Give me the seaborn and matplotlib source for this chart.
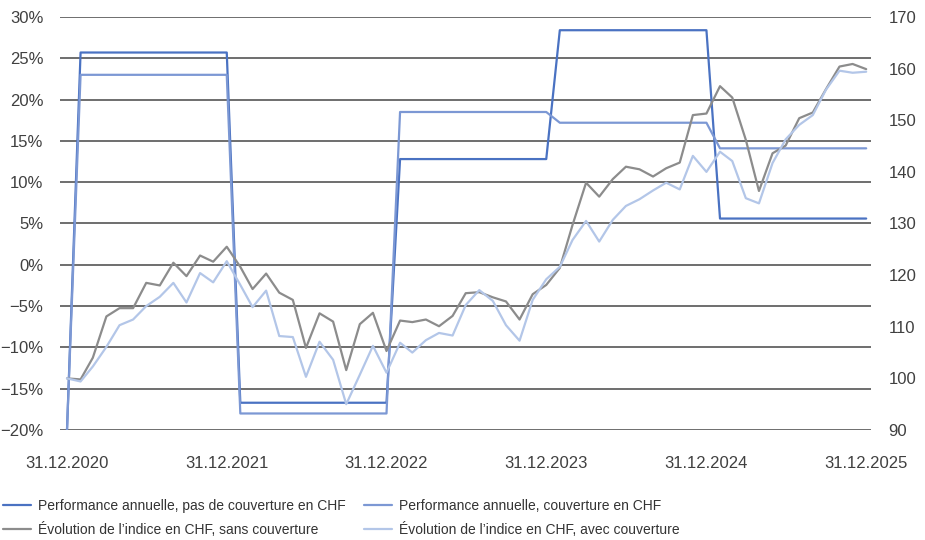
import matplotlib
matplotlib.use("Agg")
import matplotlib.pyplot as plt
import matplotlib.dates as mdates
from matplotlib.ticker import FixedLocator, FuncFormatter
import seaborn as sns
import pandas as pd
import numpy as np

# ---------------- data ----------------
dates = pd.date_range("2020-12-31", periods=61, freq="ME")

perf_unhedged = ([-20.0] + [25.7] * 12 + [-16.7] * 12 + [12.8] * 12
                 + [28.4] * 12 + [5.6] * 12)
perf_hedged = ([-20.0] + [23.0] * 12 + [-18.0] * 12 + [18.5] * 12
               + [17.2] * 12 + [14.1] * 12)

index_unhedged = [100.0, 99.8, 104.0, 112.0, 113.6, 113.6, 118.5, 118.0, 122.4, 119.8,
                  123.8, 122.6, 125.5, 121.6, 117.3, 120.3, 116.6, 115.2, 105.9, 112.6,
                  111.0, 101.6, 110.5, 112.7, 105.3, 111.2, 110.9, 111.4, 110.1, 112.1,
                  116.5, 116.7, 115.7, 114.9, 111.4, 116.3, 118.1, 121.4, 129.7, 137.9,
                  135.2, 138.6, 141.0, 140.5, 139.1, 140.7, 141.8, 151.0, 151.3, 156.6,
                  154.4, 146.2, 136.3, 143.6, 145.1, 150.4, 151.5, 156.0, 160.4, 160.9,
                  159.9]
index_hedged = [100.0, 99.4, 102.3, 106.1, 110.3, 111.4, 114.0, 115.8, 118.5, 114.7,
                120.4, 118.6, 122.7, 118.1, 113.8, 117.0, 108.2, 108.0, 100.3, 107.1,
                103.6, 95.0, 100.7, 106.3, 101.1, 106.9, 105.0, 107.4, 108.8, 108.3,
                114.2, 117.1, 115.0, 110.3, 107.3, 115.2, 119.2, 121.6, 126.8, 130.5,
                126.5, 130.7, 133.4, 134.7, 136.4, 137.9, 136.6, 143.1, 140.0, 143.9,
                142.1, 134.9, 133.9, 141.7, 146.3, 149.1, 151.0, 155.9, 159.6, 159.2,
                159.4]

labels = ["Performance annuelle, pas de couverture en CHF",
          "Performance annuelle, couverture en CHF",
          "Évolution de l’indice en CHF, sans couverture",
          "Évolution de l’indice en CHF, avec couverture"]
colors = ["#4A72C2", "#7C98D4", "#8C8C8C", "#B3C6E8"]

left_ticks = [30, 25, 20, 15, 10, 5, 0, -5, -10, -15, -20]
right_ticks = [170, 160, 150, 140, 130, 120, 110, 100, 90]
x_ticks = pd.to_datetime(["2020-12-31", "2021-12-31", "2022-12-31",
                          "2023-12-31", "2024-12-31", "2025-12-31"])

df = pd.DataFrame({"date": dates, "pu": perf_unhedged, "ph": perf_hedged,
                   "iu": index_unhedged, "ih": index_hedged})

# ---------------- plot ----------------
sns.set_theme(style="white")
plt.rcParams["font.family"] = ["Liberation Sans", "DejaVu Sans"]

fig = plt.figure(figsize=(9.25, 5.4), dpi=100)
ax = fig.add_axes([60 / 925, 1 - 430 / 540, (871 - 60) / 925, (430 - 17) / 540])
ax2 = ax.twinx()

lw = 1.6
sns.lineplot(data=df, x="date", y="pu", ax=ax, color=colors[0], lw=lw, label=labels[0], legend=False)
sns.lineplot(data=df, x="date", y="ph", ax=ax, color=colors[1], lw=lw, label=labels[1], legend=False)
sns.lineplot(data=df, x="date", y="iu", ax=ax2, color=colors[2], lw=lw, label=labels[2], legend=False)
sns.lineplot(data=df, x="date", y="ih", ax=ax2, color=colors[3], lw=lw, label=labels[3], legend=False)

ax.set_ylim(-20, 30)
ax2.set_ylim(90, 170)
ax.set_xlim(dates[0] - pd.Timedelta(days=16), dates[-1] + pd.Timedelta(days=11))

ax.yaxis.set_major_locator(FixedLocator(left_ticks))
ax.yaxis.set_major_formatter(FuncFormatter(lambda v, p: f"{v:.0f}%".replace("-", "\u2212")))
ax2.yaxis.set_major_locator(FixedLocator(right_ticks))
ax2.yaxis.set_major_formatter(FuncFormatter(lambda v, p: f"{v:.0f}"))
ax.xaxis.set_major_locator(FixedLocator(mdates.date2num(x_ticks)))
ax.xaxis.set_major_formatter(mdates.DateFormatter("%d.%m.%Y"))

ax.grid(False)
ax2.grid(False)
for t in left_ticks:
    ax.axhline(t, color="#555555", lw=1.2, zorder=0)

for a in (ax, ax2):
    for s in a.spines.values():
        s.set_visible(False)
    a.set_xlabel("")
    a.set_ylabel("")

fs = 12
ax.tick_params(axis="y", length=0, pad=12, labelsize=fs, labelcolor="#404040")
ax2.tick_params(axis="y", length=0, pad=12.5, labelsize=fs, labelcolor="#404040")
ax.tick_params(axis="x", length=0, pad=19, labelsize=fs, labelcolor="#404040")

handles = ax.get_lines()[:2] + ax2.get_lines()[:2]
order = [handles[0], handles[2], handles[1], handles[3]]
lfs = 10
fig.legend(order, [h.get_label() for h in order], ncol=2, loc="lower left",
           bbox_to_anchor=(0.0, 0.0), frameon=False, fontsize=lfs,
           handlelength=2.0, handletextpad=0.5, columnspacing=1.3,
           labelspacing=0.6, borderaxespad=0.1, borderpad=0.15,
           labelcolor="#333333")

fig.savefig("out.png", dpi=100)
